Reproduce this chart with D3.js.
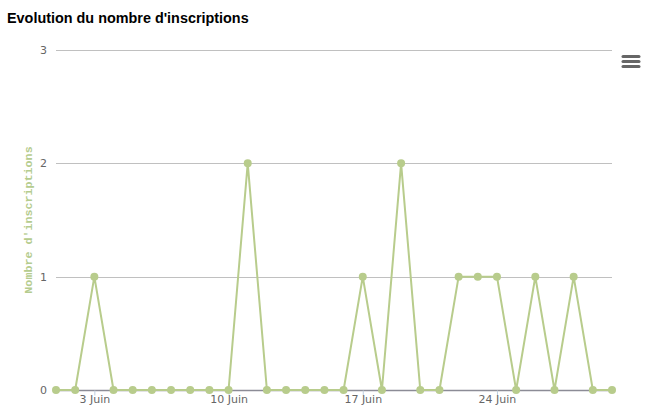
<!DOCTYPE html>
<html><head><meta charset="utf-8">
<script src="https://cdn.jsdelivr.net/npm/d3@7"></script>
<style>body{margin:0;background:#fff;}svg{display:block;}</style>
</head><body>
<svg id="c" width="660" height="411"></svg>
<script>
const title = "Evolution du nombre d'inscriptions";
const yAxisTitle = "Nombre d'inscriptions";
const days = d3.range(1, 31);
const values = [0,0,1,0,0,0,0,0,0,0,2,0,0,0,0,0,1,0,2,0,0,1,1,1,0,1,0,1,0,0];
const yTicks = [0,1,2,3];
const xTickDays = [3,10,17,24];
const monthName = "Juin";

const svg = d3.select("#c");
const W = 660, H = 411;
const x = d3.scaleLinear().domain([1,30]).range([56, 612]);
const y = d3.scaleLinear().domain([0,3]).range([390, 50]);

svg.append("rect").attr("width",W).attr("height",H).attr("fill","#fff");

svg.append("text").attr("x",7).attr("y",23)
  .attr("font-family","Liberation Sans, Arial, sans-serif").attr("font-size",14.4).attr("font-weight","bold")
  .attr("fill","#000").text(title);

// grid
const gy = svg.append("g");
gy.selectAll("line").data(yTicks.filter(d=>d>0)).join("line")
  .attr("x1",56).attr("x2",612).attr("y1",d=>Math.round(y(d))+0.5).attr("y2",d=>Math.round(y(d))+0.5)
  .attr("stroke","#c0c0c0").attr("stroke-width",1);
gy.selectAll("text").data(yTicks).join("text")
  .attr("x",47).attr("y",d=>y(d)+4).attr("text-anchor","end")
  .attr("font-family","DejaVu Sans, sans-serif").attr("font-size",11).attr("fill","#666")
  .text(d=>d);

// x axis
const xAxis = d3.axisBottom(x).tickValues(xTickDays).tickSize(5).tickFormat(d=>d+" "+monthName);
const gx = svg.append("g").attr("transform","translate(0,390.5)").call(xAxis);
gx.select(".domain").attr("stroke","#8c8c96").attr("stroke-width",1.3).attr("d","M56,0H612");
gx.selectAll(".tick line").attr("stroke","#c0d0e0");
gx.selectAll(".tick text").attr("font-family","DejaVu Sans, sans-serif").attr("font-size",11).attr("fill","#666").attr("dy","0.75em").attr("y",4);

// y title
svg.append("text").attr("transform",`translate(32,${y(1.5)}) rotate(-90)`).attr("text-anchor","middle")
  .attr("font-family","Liberation Mono, Courier New, monospace").attr("font-size",11.7).attr("font-weight","bold")
  .attr("fill","#b5cc8e").text(yAxisTitle);

const data = days.map((d,i)=>({d, v:values[i]}));
const color = "#b8cc8c";
svg.append("path").datum(data)
  .attr("d", d3.line().x(p=>x(p.d)).y(p=>y(p.v)))
  .attr("fill","none").attr("stroke",color).attr("stroke-width",2).attr("stroke-linejoin","round");
svg.selectAll("circle.pt").data(data).join("circle").attr("class","pt")
  .attr("cx",p=>x(p.d)).attr("cy",p=>y(p.v)).attr("r",4).attr("fill",color);

// menu icon
svg.append("g").selectAll("line").data([0,5,10]).join("line")
  .attr("x1",623).attr("x2",639).attr("y1",d=>56.5+d).attr("y2",d=>56.5+d)
  .attr("stroke","#666").attr("stroke-width",3).attr("stroke-linecap","round");
</script>
</body></html>
